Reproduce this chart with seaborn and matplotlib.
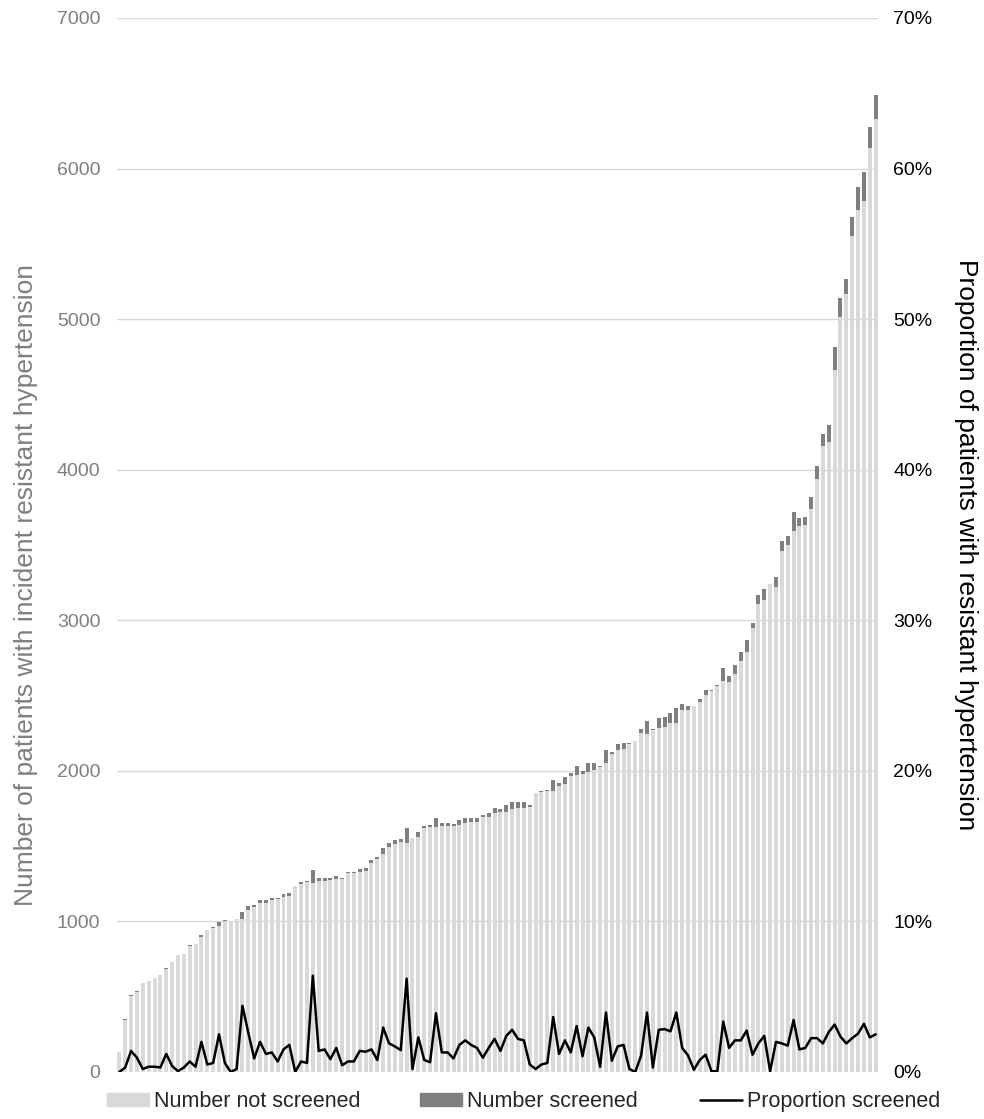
import numpy as np
import pandas as pd
import seaborn as sns
import matplotlib.pyplot as plt
from matplotlib.patches import Patch
from matplotlib.lines import Line2D

# total patients with incident resistant hypertension per practice (sorted)
total = [135, 349, 514, 536, 592, 607, 625, 647, 691, 731,
         775, 784, 845, 850, 912, 945, 962, 993, 1007, 1004,
         1015, 1064, 1104, 1108, 1143, 1139, 1154, 1154, 1183, 1192,
         1232, 1260, 1269, 1342, 1287, 1287, 1287, 1302, 1291, 1331,
         1331, 1349, 1353, 1408, 1426, 1490, 1524, 1542, 1550, 1623,
         1557, 1595, 1635, 1639, 1690, 1657, 1657, 1646, 1672, 1690,
         1690, 1690, 1708, 1723, 1756, 1750, 1772, 1796, 1794, 1794,
         1772, 1856, 1867, 1874, 1938, 1922, 1956, 1989, 2033, 2000,
         2051, 2051, 2033, 2140, 2128, 2177, 2184, 2184, 2195, 2277,
         2334, 2277, 2350, 2357, 2383, 2416, 2445, 2434, 2434, 2474,
         2534, 2534, 2567, 2684, 2629, 2700, 2788, 2866, 2983, 3165,
         3209, 3240, 3290, 3527, 3560, 3718, 3678, 3689, 3822, 4027,
         4238, 4300, 4816, 5138, 5267, 5678, 5878, 5978, 6278, 6489]

# proportion screened (%)
pct = [0.0, 0.3, 1.4, 0.95, 0.2, 0.35, 0.35, 0.3, 1.2, 0.4,
       0.05, 0.3, 0.7, 0.35, 2.0, 0.5, 0.6, 2.5, 0.6, 0.0,
       0.2, 4.4, 2.6, 0.9, 2.0, 1.2, 1.3, 0.7, 1.5, 1.8,
       0.0, 0.7, 0.6, 6.4, 1.4, 1.5, 0.85, 1.6, 0.45, 0.7,
       0.7, 1.4, 1.35, 1.5, 0.8, 2.95, 1.9, 1.7, 1.45, 6.2,
       0.2, 2.3, 0.8, 0.65, 3.9, 1.3, 1.3, 0.9, 1.8, 2.1,
       1.8, 1.6, 0.95, 1.6, 2.2, 1.4, 2.4, 2.8, 2.2, 2.1,
       0.5, 0.2, 0.5, 0.6, 3.65, 1.2, 2.1, 1.3, 3.05, 1.05,
       2.95, 2.3, 0.35, 3.95, 0.75, 1.7, 1.8, 0.2, 0.0, 1.1,
       3.95, 0.3, 2.8, 2.85, 2.7, 3.95, 1.6, 1.1, 0.15, 0.8,
       1.15, 0.05, 0.05, 3.35, 1.6, 2.1, 2.1, 2.75, 1.15, 1.9,
       2.4, 0.05, 2.0, 1.9, 1.75, 3.45, 1.5, 1.6, 2.25, 2.25,
       1.9, 2.65, 3.15, 2.35, 1.9, 2.25, 2.55, 3.2, 2.3, 2.5]

left_ticks = [0, 1000, 2000, 3000, 4000, 5000, 6000, 7000]
right_ticks = [0, 10, 20, 30, 40, 50, 60, 70]
right_labels = [f"{t}%" for t in right_ticks]

df = pd.DataFrame({"practice": np.arange(len(total)), "total": total, "pct": pct})
df["screened"] = np.round(df["total"] * df["pct"] / 100)
df["not_screened"] = df["total"] - df["screened"]

light = "#d9d9d9"
dark = "#7f7f7f"

sns.set_theme(style="white")
plt.rcParams["font.family"] = ["Liberation Sans", "DejaVu Sans"]

fig = plt.figure(figsize=(9.84, 11.19), dpi=100)
ax = fig.add_axes([117 / 984, 1 - 1072 / 1119, (878 - 117) / 984, (1072 - 18) / 1119])

# total in dark, not screened in light on top -> stacked look
sns.barplot(data=df, x="practice", y="total", color=dark, width=0.68,
            saturation=1, errorbar=None, linewidth=0, ax=ax)
sns.barplot(data=df, x="practice", y="not_screened", color=light, width=0.68,
            saturation=1, errorbar=None, linewidth=0, ax=ax)

ax.set_ylim(0, 7000)
ax.set_yticks(left_ticks)
ax.set_xticks([])
ax.set_xlabel("")
ax.grid(axis="y", color="#d9d9d9", lw=1)
ax.set_axisbelow(True)
ax.tick_params(axis="y", labelsize=14, labelcolor="#7f7f7f", length=0, pad=12)
ax.set_ylabel("Number of patients with incident resistant hypertension",
              fontsize=19, color="#7f7f7f")
ax.yaxis.set_label_coords(-0.104, 0.462)
for s in ax.spines.values():
    s.set_visible(False)

ax2 = ax.twinx()
sns.lineplot(data=df, x="practice", y="pct", color="black", lw=1.8, ax=ax2)
ax2.set_ylim(0, 70)
ax2.set_yticks(right_ticks)
ax2.set_yticklabels(right_labels)
ax2.tick_params(axis="y", labelsize=14, labelcolor="black", length=0, pad=11)
ax2.set_ylabel("Proportion of patients with resistant hypertension",
               fontsize=19, color="black", rotation=270, va="bottom")
ax2.yaxis.set_label_coords(1.1, 0.5)
ax2.set_xlabel("")
ax2.grid(False)
for s in ax2.spines.values():
    s.set_visible(False)
ax.set_xlim(-0.4, len(total) - 0.6)

# legend: three separate entries spread along the bottom
entries = [
    (Patch(color=light), "Number not screened", 107),
    (Patch(color=dark), "Number screened", 420),
    (Line2D([0], [0], color="black", lw=1.8), "Proportion screened", 700),
]
for h, name, xpix in entries:
    leg = fig.legend([h], [name], loc="center left", bbox_to_anchor=(xpix / 984, 17.5 / 1119),
                     frameon=False, fontsize=15.5, handlelength=1.95, handleheight=0.52,
                     handletextpad=0.23, borderpad=0, borderaxespad=0)

fig.savefig("out.png", dpi=100)
